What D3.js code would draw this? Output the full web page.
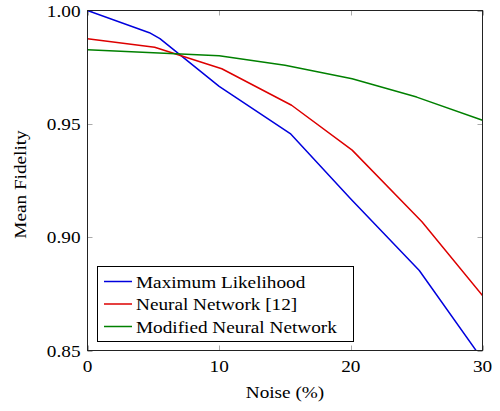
<!DOCTYPE html>
<html>
<head>
<meta charset="utf-8">
<script src="https://cdn.jsdelivr.net/npm/d3@7"></script>
<style>
  html, body { margin: 0; padding: 0; background: #fff; }
  svg { display: block; }
</style>
</head>
<body>
<svg id="chart" width="500" height="411"></svg>
<script>
// ---- data ----
const seriesNames = ["Maximum Likelihood", "Neural Network [12]", "Modified Neural Network"];
const seriesColors = ["#0000dd", "#dd0000", "#008000"];
const mlNoise  = [0, 4.7, 5.5, 10.0, 15.4, 20.0, 25.2, 30];
const mlFid    = [1.000, 0.9902, 0.9876, 0.9665, 0.9457, 0.9168, 0.8853, 0.8460];
const nnNoise  = [0, 5.1, 10.2, 15.5, 20.1, 25.4, 30];
const nnFid    = [0.9875, 0.9838, 0.9743, 0.9582, 0.9384, 0.9068, 0.8742];
const mnnNoise = [0, 10.0, 15.0, 20.1, 25.0, 30];
const mnnFid   = [0.9827, 0.9800, 0.9758, 0.9699, 0.9618, 0.9516];
const xTicks = [0, 10, 20, 30];
const yTicks = [0.85, 0.90, 0.95, 1.00];
const xLabel = "Noise (%)";
const yLabel = "Mean Fidelity";

const series = [
  {name: seriesNames[0], color: seriesColors[0], pts: mlNoise.map((x, i) => [x, mlFid[i]])},
  {name: seriesNames[1], color: seriesColors[1], pts: nnNoise.map((x, i) => [x, nnFid[i]])},
  {name: seriesNames[2], color: seriesColors[2], pts: mnnNoise.map((x, i) => [x, mnnFid[i]])}
];

// ---- layout ----
const L = 87.5, R = 482.5, T = 10.5, B = 350.5;
const svg = d3.select("#chart");
const x = d3.scaleLinear().domain([0, 30]).range([L, R]);
const y = d3.scaleLinear().domain([0.85, 1.00]).range([B, T]);
const FS = 17.5;
const SX = 1.1;

svg.append("defs").append("clipPath").attr("id", "clip")
  .append("rect").attr("x", L).attr("y", T).attr("width", R - L).attr("height", B - T);

// ticks (inside, gray)
const tickLen = 5;
const tg = svg.append("g").attr("stroke", "#aaa").attr("stroke-width", 1);
xTicks.forEach(t => {
  const px = Math.round(x(t)) + 0.5;
  tg.append("line").attr("x1", px).attr("x2", px).attr("y1", B).attr("y2", B - tickLen);
  tg.append("line").attr("x1", px).attr("x2", px).attr("y1", T).attr("y2", T + tickLen);
});
yTicks.forEach(t => {
  const py = Math.round(y(t)) + 0.5;
  tg.append("line").attr("x1", L).attr("x2", L + tickLen).attr("y1", py).attr("y2", py);
  tg.append("line").attr("x1", R).attr("x2", R - tickLen).attr("y1", py).attr("y2", py);
});

// lines
const line = d3.line().x(d => x(d[0])).y(d => y(d[1]));
const lg = svg.append("g").attr("clip-path", "url(#clip)");
series.forEach(s => {
  lg.append("path").datum(s.pts).attr("d", line)
    .attr("fill", "none").attr("stroke", s.color).attr("stroke-width", 1.5)
    .attr("stroke-linejoin", "round");
});

// frame
svg.append("rect").attr("x", L).attr("y", T).attr("width", R - L).attr("height", B - T)
  .attr("fill", "none").attr("stroke", "#222").attr("stroke-width", 1);

// text helper: positioned group, horizontally stretched glyphs
function label(px, py, str, anchor, rot) {
  const g = svg.append("g").attr("transform", `translate(${px},${py})` + (rot ? ` rotate(${rot})` : "") + ` scale(${SX},1)`);
  g.append("text").attr("x", 0).attr("y", 0)
    .attr("font-family", "Liberation Serif").attr("font-size", FS).attr("fill", "#000")
    .attr("text-anchor", anchor || "start").text(str);
  return g;
}

// tick labels
xTicks.forEach(t => label(x(t), B + 21, d3.format("d")(t), "middle"));
yTicks.forEach(t => label(L - 7, y(t) + 6, d3.format(".2f")(t), "end"));

// axis labels
label((L + R) / 2, 398, xLabel, "middle");
label(26, (T + B) / 2 + 4, yLabel, "middle", -90);

// legend
const legX = 97.5, legY = 266.5, legW = 256, legH = 75;
svg.append("rect").attr("x", legX).attr("y", legY).attr("width", legW).attr("height", legH)
  .attr("fill", "#fff").attr("stroke", "#000").attr("stroke-width", 1);
series.forEach((s, i) => {
  const cy = 281.5 + i * 22.5;
  svg.append("line").attr("x1", 104).attr("x2", 132).attr("y1", cy).attr("y2", cy)
    .attr("stroke", s.color).attr("stroke-width", 1.5);
  label(136, cy + 6, s.name, "start");
});
</script>
</body>
</html>
